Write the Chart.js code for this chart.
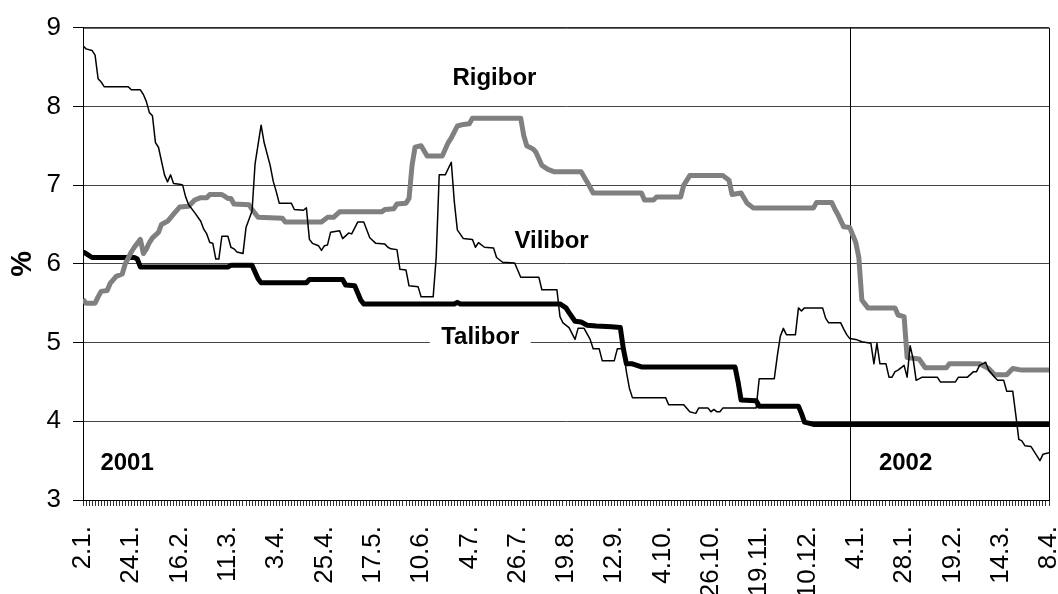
<!DOCTYPE html>
<html>
<head>
<meta charset="utf-8">
<script src="https://cdn.jsdelivr.net/npm/chart.js@4/dist/chart.umd.min.js"></script>
<style>
  html, body { margin: 0; padding: 0; background: #fff; }
</style>
</head>
<body>
<canvas id="rates" width="1058" height="594"></canvas>
<script>
// working-day index (0 = 2.1.2001, 320 = 8.4.2002), every 16th day is labelled
const xTickLabels = ['2.1.', '24.1.', '16.2.', '11.3.', '3.4.', '25.4.', '17.5.', '10.6.', '4.7.', '26.7.',
    '19.8.', '12.9.', '4.10.', '26.10.', '19.11.', '10.12.', '4.1.', '28.1.', '19.2.', '14.3.', '8.4.'];
const labelEvery = 16;
const lastDay = 320;
const yearStart2002 = 254;

// [day, %]
const vilibor = [
    [0, 8.77], [1, 8.73], [3, 8.71], [4, 8.65], [5, 8.35], [6, 8.31], [7, 8.25], [15, 8.25], [16, 8.21], [19, 8.21],
    [20, 8.15], [21, 8.06], [22, 7.92], [23, 7.88], [24, 7.54], [25, 7.48], [27, 7.13], [28, 7.04], [29, 7.13], [30, 7.02],
    [32, 7.01], [33, 7.0], [34, 6.85], [35, 6.75], [37, 6.65], [39, 6.54], [40, 6.44], [41, 6.38], [42, 6.27], [43, 6.26],
    [44, 6.06], [45, 6.06], [46, 6.35], [48, 6.35], [49, 6.21], [50, 6.19], [51, 6.15], [53, 6.13], [54, 6.46], [56, 6.67],
    [57, 7.27], [59, 7.76], [60, 7.54], [62, 7.25], [63, 7.05], [64, 6.92], [65, 6.77], [69, 6.77], [70, 6.69], [73, 6.68],
    [74, 6.71], [75, 6.31], [76, 6.26], [78, 6.23], [79, 6.17], [80, 6.23], [81, 6.24], [82, 6.4], [85, 6.42], [86, 6.32],
    [88, 6.39], [89, 6.38], [91, 6.53], [93, 6.53], [95, 6.33], [97, 6.26], [100, 6.25], [101, 6.21], [102, 6.19], [104, 6.18],
    [105, 5.93], [107, 5.92], [108, 5.72], [111, 5.71], [112, 5.58], [116, 5.58], [117, 6.08], [118, 7.13], [120, 7.13], [122, 7.29],
    [123, 6.79], [124, 6.43], [126, 6.32], [129, 6.31], [130, 6.21], [131, 6.27], [133, 6.21], [136, 6.2], [137, 6.08], [139, 6.02],
    [143, 6.01], [145, 5.83], [151, 5.83], [152, 5.67], [157, 5.67], [158, 5.33], [159, 5.25], [161, 5.19], [163, 5.04], [164, 5.18],
    [166, 5.18], [168, 5.04], [169, 4.92], [171, 4.92], [172, 4.77], [176, 4.77], [177, 4.92], [179, 4.92], [180, 4.63], [181, 4.42],
    [182, 4.3], [193, 4.3], [194, 4.21], [199, 4.21], [201, 4.12], [202, 4.11], [203, 4.1], [204, 4.17], [207, 4.17], [208, 4.12],
    [209, 4.15], [210, 4.12], [211, 4.12], [212, 4.17], [223, 4.17], [224, 4.54], [229, 4.54], [230, 4.83], [231, 5.08], [232, 5.18],
    [233, 5.1], [236, 5.1], [237, 5.44], [238, 5.4], [239, 5.44], [245, 5.44], [246, 5.31], [247, 5.25], [251, 5.25], [252, 5.17],
    [253, 5.1], [254, 5.05], [256, 5.04], [258, 5.01], [261, 4.99], [262, 4.73], [263, 4.99], [264, 4.73], [266, 4.73], [267, 4.56],
    [268, 4.56], [269, 4.63], [270, 4.65], [272, 4.71], [273, 4.56], [274, 4.96], [275, 4.79], [276, 4.52], [278, 4.56], [283, 4.56],
    [284, 4.5], [289, 4.5], [290, 4.56], [293, 4.56], [295, 4.63], [296, 4.63], [297, 4.71], [298, 4.73], [299, 4.75], [300, 4.65],
    [302, 4.56], [303, 4.52], [305, 4.52], [306, 4.38], [308, 4.38], [309, 4.08], [310, 3.77], [311, 3.75], [312, 3.69], [314, 3.68],
    [316, 3.56], [317, 3.5], [318, 3.58], [320, 3.6]
];

const rigibor = [
    [0, 5.55], [1, 5.5], [4, 5.5], [5, 5.58], [6, 5.65], [8, 5.66], [9, 5.75], [11, 5.84], [13, 5.87], [14, 6.0],
    [16, 6.15], [17, 6.21], [19, 6.31], [20, 6.13], [21, 6.19], [22, 6.27], [23, 6.33], [25, 6.4], [26, 6.5], [28, 6.54],
    [30, 6.63], [32, 6.72], [35, 6.73], [37, 6.81], [39, 6.84], [41, 6.84], [42, 6.88], [46, 6.88], [48, 6.83], [49, 6.83],
    [50, 6.76], [55, 6.75], [56, 6.69], [58, 6.59], [66, 6.58], [67, 6.53], [79, 6.53], [81, 6.59], [83, 6.59], [85, 6.66],
    [99, 6.66], [100, 6.69], [103, 6.7], [104, 6.76], [107, 6.77], [108, 6.83], [109, 7.25], [110, 7.48], [112, 7.5], [114, 7.37],
    [119, 7.37], [121, 7.54], [122, 7.6], [124, 7.75], [126, 7.77], [128, 7.78], [129, 7.85], [145, 7.85], [146, 7.63], [147, 7.5],
    [149, 7.46], [150, 7.42], [152, 7.25], [154, 7.2], [156, 7.17], [165, 7.17], [167, 7.04], [169, 6.9], [185, 6.9], [186, 6.81],
    [189, 6.81], [190, 6.85], [198, 6.85], [199, 7.0], [201, 7.12], [212, 7.12], [214, 7.06], [215, 6.88], [218, 6.9], [220, 6.77],
    [222, 6.71], [242, 6.71], [243, 6.78], [248, 6.78], [249, 6.7], [250, 6.63], [252, 6.47], [254, 6.46], [256, 6.27], [257, 6.08],
    [258, 5.54], [260, 5.44], [269, 5.44], [270, 5.35], [272, 5.33], [273, 4.81], [275, 4.8], [277, 4.79], [279, 4.68], [286, 4.68],
    [287, 4.73], [297, 4.73], [300, 4.67], [302, 4.59], [306, 4.59], [308, 4.67], [311, 4.65], [320, 4.65]
];

const talibor = [
    [0, 6.15], [1, 6.13], [3, 6.08], [17, 6.08], [18, 6.06], [19, 5.96], [48, 5.96], [49, 5.98], [56, 5.98], [58, 5.81],
    [59, 5.76], [74, 5.76], [75, 5.8], [86, 5.8], [87, 5.73], [90, 5.72], [92, 5.54], [93, 5.49], [123, 5.49], [124, 5.51],
    [125, 5.49], [158, 5.49], [160, 5.44], [161, 5.38], [163, 5.27], [165, 5.26], [167, 5.22], [170, 5.21], [175, 5.2], [178, 5.19],
    [179, 4.92], [180, 4.73], [182, 4.73], [185, 4.69], [216, 4.69], [217, 4.5], [218, 4.27], [223, 4.26], [224, 4.19], [237, 4.19],
    [238, 4.1], [239, 3.99], [242, 3.96], [320, 3.96]
];

// text placed in data coordinates [day, %]
const notes = [
    { text: 'Rigibor', at: [136.3, 8.35] },
    { text: 'Vilibor', at: [155.2, 6.29] },
    { text: 'Talibor', at: [131.6, 5.06], box: 101 },
    { text: '2001', at: [14.6, 3.46] },
    { text: '2002', at: [272.5, 3.46] }
];

const toPoints = pairs => pairs.map(([x, y]) => ({ x, y }));

const overlay = {
    id: 'overlay',
    beforeDatasetsDraw(chart) {
        const { ctx, chartArea: a, scales: { x } } = chart;
        ctx.save();
        ctx.strokeStyle = '#000';
        ctx.lineWidth = 1;
        ctx.beginPath();
        ctx.moveTo(a.left, a.top + 0.5);
        ctx.lineTo(a.right + 0.5, a.top + 0.5);
        ctx.lineTo(a.right + 0.5, a.bottom);
        const xs = Math.round(x.getPixelForValue(yearStart2002)) + 0.5;
        ctx.moveTo(xs, a.top);
        ctx.lineTo(xs, a.bottom);
        ctx.stroke();
        ctx.restore();
    },
    afterDraw(chart) {
        const { ctx, scales: { x, y } } = chart;
        ctx.save();
        ctx.font = 'bold 24px "Liberation Sans", Arial, sans-serif';
        ctx.textAlign = 'center';
        ctx.textBaseline = 'middle';
        notes.forEach(n => {
            const px = x.getPixelForValue(n.at[0]);
            const py = y.getPixelForValue(n.at[1]);
            if (n.box) {
                ctx.fillStyle = '#fff';
                ctx.fillRect(px - n.box / 2, py - 13, n.box, 26);
            }
            ctx.fillStyle = '#000';
            ctx.fillText(n.text, px, py);
        });
        ctx.restore();
    }
};

new Chart(document.getElementById('rates').getContext('2d'), {
    type: 'line',
    data: {
        datasets: [
            { label: 'Vilibor', data: toPoints(vilibor), borderColor: '#000', borderWidth: 1.5 },
            { label: 'Rigibor', data: toPoints(rigibor), borderColor: '#808080', borderWidth: 5 },
            { label: 'Talibor', data: toPoints(talibor), borderColor: '#000', borderWidth: 5 }
        ]
    },
    options: {
        responsive: false,
        animation: false,
        devicePixelRatio: 1,
        layout: { padding: { top: 20, right: 9, left: 0, bottom: 0 } },
        elements: {
            line: { tension: 0, fill: false, borderJoinStyle: 'round' },
            point: { radius: 0 }
        },
        plugins: {
            legend: { display: false },
            tooltip: { enabled: false }
        },
        scales: {
            x: {
                type: 'linear',
                min: 0,
                max: lastDay,
                afterFit: s => { s.height = 94; s.paddingLeft = 0; s.paddingRight = 0; },
                border: { color: '#000', width: 1 },
                grid: { drawOnChartArea: false, tickLength: 6, color: '#333' },
                ticks: {
                    stepSize: 1,
                    maxTicksLimit: 400,
                    autoSkip: false,
                    minRotation: 90,
                    maxRotation: 90,
                    padding: 20,
                    color: '#000',
                    font: { family: '"Liberation Sans", Arial, sans-serif', size: 26 },
                    callback: v => (v % labelEvery === 0 ? xTickLabels[v / labelEvery] : '')
                }
            },
            y: {
                min: 3,
                max: 9,
                afterFit: s => { s.width = 83; },
                border: { color: '#000', width: 1 },
                grid: { color: '#444', tickColor: '#000', tickLength: 10 },
                title: {
                    display: true,
                    text: '%',
                    color: '#000',
                    padding: { top: 6, bottom: 0 },
                    font: { family: '"Liberation Sans", Arial, sans-serif', size: 29, weight: 'bold' }
                },
                ticks: {
                    stepSize: 1,
                    padding: 12,
                    color: '#000',
                    font: { family: '"Liberation Sans", Arial, sans-serif', size: 26 }
                }
            }
        }
    },
    plugins: [overlay]
});
</script>
</body>
</html>
